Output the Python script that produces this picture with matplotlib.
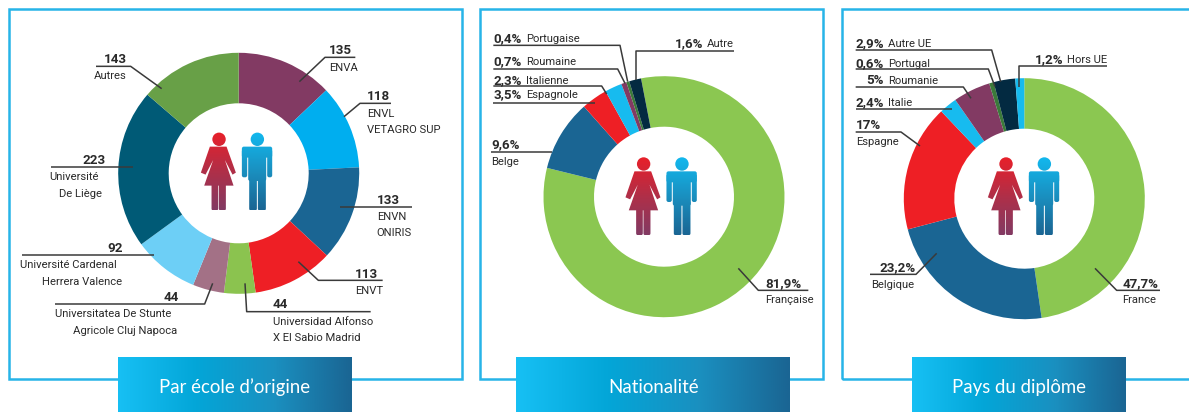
import numpy as np
import matplotlib
matplotlib.use("Agg")
import matplotlib.pyplot as plt
from matplotlib.colors import LinearSegmentedColormap
from matplotlib.patches import Circle, FancyBboxPatch, Polygon, Rectangle

# chart values
ecole_noms = ["ENVA", "ENVL\nVETAGRO SUP", "ENVN\nONIRIS", "ENVT", "Universidad Alfonso\nX El Sabio Madrid",
              "Universitatea De Stunte\nAgricole Cluj Napoca", "Université Cardenal\nHerrera Valence",
              "Université\nDe Liège", "Autres"]
ecole_vals = [135, 118, 133, 113, 44, 44, 92, 223, 143]
ecole_cols = ["#823A63", "#00AEEF", "#1A6593", "#EE1F25", "#8BC34F", "#A37186", "#6DCFF6", "#005A76", "#68A047"]

nat_noms = ["Française", "Belge", "Espagnole", "Italienne", "Roumaine", "Portugaise", "Autre"]
nat_vals = [81.9, 9.6, 3.5, 2.3, 0.7, 0.4, 1.6]
nat_cols = ["#8BC751", "#1A6593", "#EE1F25", "#17BBEF", "#823A63", "#3B7A3A", "#032A41"]

pays_noms = ["France", "Belgique", "Espagne", "Italie", "Roumanie", "Portugal", "Autre UE", "Hors UE"]
pays_vals = [47.7, 23.2, 17, 2.4, 5, 0.6, 2.9, 1.2]
pays_cols = ["#8BC751", "#1A6593", "#EE1F25", "#17BBEF", "#823A63", "#3B7A3A", "#032A41", "#17BBEF"]

titres = ["Par école d’origine", "Nationalité", "Pays du diplôme"]

W, H = 1189, 412
LABEL_FONT = ["Roboto", "DejaVu Sans"]
FS = 8.1
FS_BOLD = 9.6

fig = plt.figure(figsize=(W / 100, H / 100), dpi=100)
ax = fig.add_axes([0, 0, 1, 1])

banner_cmap = LinearSegmentedColormap.from_list("banner", ["#17C0F4", "#03A6D8", "#1A90C0", "#1A6593"])
fem_cmap = LinearSegmentedColormap.from_list("fem", ["#E8202A", "#B02F48", "#823A63"])
hom_cmap = LinearSegmentedColormap.from_list("hom", ["#12B8EE", "#1A90C0", "#1A6593"])


def donut(vals, cols, cx, cy, start):
    ax.pie(vals, colors=cols, center=(cx, H - cy), radius=120.5, startangle=start, counterclock=False,
           wedgeprops={"width": 50.5, "linewidth": 0})


def frame(x0, x1):
    ax.add_patch(Rectangle((x0, H - 378.7), x1 - x0, 369.7, fill=False, ec="#27B4E8", lw=1.8, zorder=1))


def banner(x0, x1, titre):
    grad = np.linspace(0, 1, 256).reshape(1, -1)
    ax.imshow(grad, cmap=banner_cmap, extent=(x0, x1, 0, H - 357), aspect="auto", zorder=2)
    ax.text((x0 + x1) / 2, H - 393, titre, color="white", fontsize=13.4, family=["Lato", "DejaVu Sans"],
            ha="center", va="baseline", zorder=6)


def leader(off, *pts):
    xs = [off + p[0] / 3 for p in pts]
    ys = [H - p[1] / 3 for p in pts]
    ax.plot(xs, ys, color="#3A3A3A", lw=1.1, solid_capstyle="butt", zorder=4)


def txt(off, x, y, s, bold=False):
    ax.text(off + x / 3, H - y / 3, s, family=LABEL_FONT, fontsize=FS_BOLD if bold else FS, color="#2A2A2A",
            fontweight="bold" if bold else "normal", ha="left", va="baseline", zorder=5)


def pct(v):
    return f"{v:g}".replace(".", ",") + "%"


def piece(patch, cmap, ax0, ytop):
    # each body part gets the same vertical gradient, top colour first
    patch.set_transform(ax.transData)
    grad = np.linspace(0, 1, 128).reshape(-1, 1)
    im = ax.imshow(grad, cmap=cmap, extent=(ax0 - 45, ax0 + 45, H - ytop - 78, H - ytop), aspect="auto", zorder=3)
    im.set_clip_path(patch)


def box(x0, y0, x1, y1, ax0, ay0):
    return FancyBboxPatch((ax0 + x0 / 3, H - ay0 - y1 / 3), (x1 - x0) / 3, (y1 - y0) / 3,
                          boxstyle="round,pad=0,rounding_size=2")


def people(ax0, ay0):
    top = ay0 - 7
    fem = [(-85, 22), (-35, 22), (-7, 100), (-17, 106), (-40, 62), (-14, 139), (-102, 139), (-75, 62), (-98, 106), (-112, 100)]
    piece(Circle((ax0 - 57.5 / 3, H - ay0), 6.7), fem_cmap, ax0, top)
    piece(Polygon([(ax0 + x / 3, H - ay0 - y / 3) for x, y in fem]), fem_cmap, ax0, top)
    piece(box(-80, 130, -60, 214, ax0, ay0), fem_cmap, ax0, top)
    piece(box(-58, 130, -37, 214, ax0, ay0), fem_cmap, ax0, top)
    piece(Circle((ax0 + 57.5 / 3, H - ay0), 6.7), hom_cmap, ax0, top)
    for part in [(11, 22, 102, 55), (11, 30, 27, 114), (87, 30, 102, 114), (30, 30, 84, 125), (33, 110, 56, 214), (59, 110, 83, 214)]:
        piece(box(part[0], part[1], part[2], part[3], ax0, ay0), hom_cmap, ax0, top)


# panel 1
frame(8.7, 462)
donut(ecole_vals, ecole_cols, 238.7, 173.3, 90)
people(238.2, 139.3)
off = 0
leader(off, (1066, 172), (975, 172), (898, 245))
txt(off, 988, 162, str(ecole_vals[0]), True); txt(off, 988, 212, ecole_noms[0])
leader(off, (1173, 310), (1080, 310), (1032, 350))
txt(off, 1100, 300, str(ecole_vals[1]), True)
txt(off, 1100, 350, ecole_noms[1].split("\n")[0]); txt(off, 1100, 398, ecole_noms[1].split("\n")[1])
leader(off, (1020, 621), (1236, 621))
txt(off, 1130, 611, str(ecole_vals[2]), True)
txt(off, 1130, 660, ecole_noms[2].split("\n")[0]); txt(off, 1130, 709, ecole_noms[2].split("\n")[1])
leader(off, (895, 785), (955, 841), (1148, 841))
txt(off, 1065, 833, str(ecole_vals[3]), True); txt(off, 1065, 882, ecole_noms[3])
leader(off, (735, 850), (740, 935), (1112, 935))
txt(off, 818, 925, str(ecole_vals[4]), True)
txt(off, 818, 975, ecole_noms[4].split("\n")[0]); txt(off, 818, 1024, ecole_noms[4].split("\n")[1])
leader(off, (638, 850), (614, 912), (165, 912))
txt(off, 491, 902, str(ecole_vals[5]), True)
txt(off, 165, 951, ecole_noms[5].split("\n")[0]); txt(off, 218, 1001, ecole_noms[5].split("\n")[1])
leader(off, (462, 764), (66, 764))
txt(off, 322, 756, str(ecole_vals[6]), True)
txt(off, 60, 805, ecole_noms[6].split("\n")[0]); txt(off, 125, 855, ecole_noms[6].split("\n")[1])
leader(off, (398, 501), (152, 501))
txt(off, 247, 491, str(ecole_vals[7]), True)
txt(off, 149, 541, ecole_noms[7].split("\n")[0]); txt(off, 177, 590, ecole_noms[7].split("\n")[1])
leader(off, (288, 199), (392, 199), (485, 266))
txt(off, 313, 188, str(ecole_vals[8]), True); txt(off, 280, 238, ecole_noms[8])
banner(118.3, 351.7, titres[0])

# panel 2
off = 475
frame(480, 823.3)
donut(nat_vals, nat_cols, 664, 196.7, 101)
people(662.8, 164)
leader(off, (55, 136), (435, 136), (458, 245))
txt(off, 55, 127, pct(nat_vals[5]), True); txt(off, 152, 127, nat_noms[5])
leader(off, (55, 207), (428, 207), (450, 250))
txt(off, 55, 195, pct(nat_vals[4]), True); txt(off, 152, 195, nat_noms[4])
leader(off, (55, 258), (380, 258), (395, 282))
txt(off, 55, 253, pct(nat_vals[3]), True); txt(off, 152, 253, nat_noms[3])
leader(off, (55, 309), (360, 309))
txt(off, 55, 295, pct(nat_vals[2]), True); txt(off, 152, 295, nat_noms[2])
leader(off, (777, 152), (482, 152), (482, 240))
txt(off, 600, 141, pct(nat_vals[6]), True); txt(off, 695, 141, nat_noms[6])
leader(off, (48, 455), (232, 455))
txt(off, 48, 445, pct(nat_vals[1]), True); txt(off, 48, 495, nat_noms[1])
leader(off, (1000, 871), (850, 871), (790, 805))
txt(off, 870, 860, pct(nat_vals[0]), True); txt(off, 870, 908, nat_noms[0])
banner(516.3, 790, titres[1])

# panel 3
off = 835
frame(842.3, 1195)
donut(pays_vals, pays_cols, 1024.3, 198.7, 90)
people(1025.2, 164)
leader(off, (62, 150), (470, 150), (497, 245))
txt(off, 62, 142, pct(pays_vals[6]), True); txt(off, 160, 142, pays_noms[6])
leader(off, (62, 207), (460, 207), (480, 260))
txt(off, 62, 200, pct(pays_vals[5]), True); txt(off, 160, 200, pays_noms[5])
leader(off, (62, 261), (385, 261), (408, 295))
txt(off, 95, 253, pct(pays_vals[4]), True); txt(off, 160, 253, pays_noms[4])
leader(off, (62, 326), (350, 326))
txt(off, 62, 318, pct(pays_vals[3]), True); txt(off, 160, 318, pays_noms[3])
leader(off, (62, 396), (198, 396), (255, 438))
txt(off, 62, 388, pct(pays_vals[2]), True); txt(off, 62, 434, pays_noms[2])
leader(off, (815, 197), (552, 197), (552, 262))
txt(off, 600, 188, pct(pays_vals[7]), True); txt(off, 695, 188, pays_noms[7])
leader(off, (305, 760), (243, 823), (105, 823))
txt(off, 132, 814, pct(pays_vals[1]), True); txt(off, 107, 863, pays_noms[1])
leader(off, (780, 805), (845, 871), (975, 871))
txt(off, 862, 860, pct(pays_vals[0]), True); txt(off, 862, 908, pays_noms[0])
banner(911.7, 1125.3, titres[2])

ax.set_xlim(0, W)
ax.set_ylim(0, H)
ax.set_aspect("auto")
ax.axis("off")
fig.savefig("out.png", dpi=100, facecolor="white")
